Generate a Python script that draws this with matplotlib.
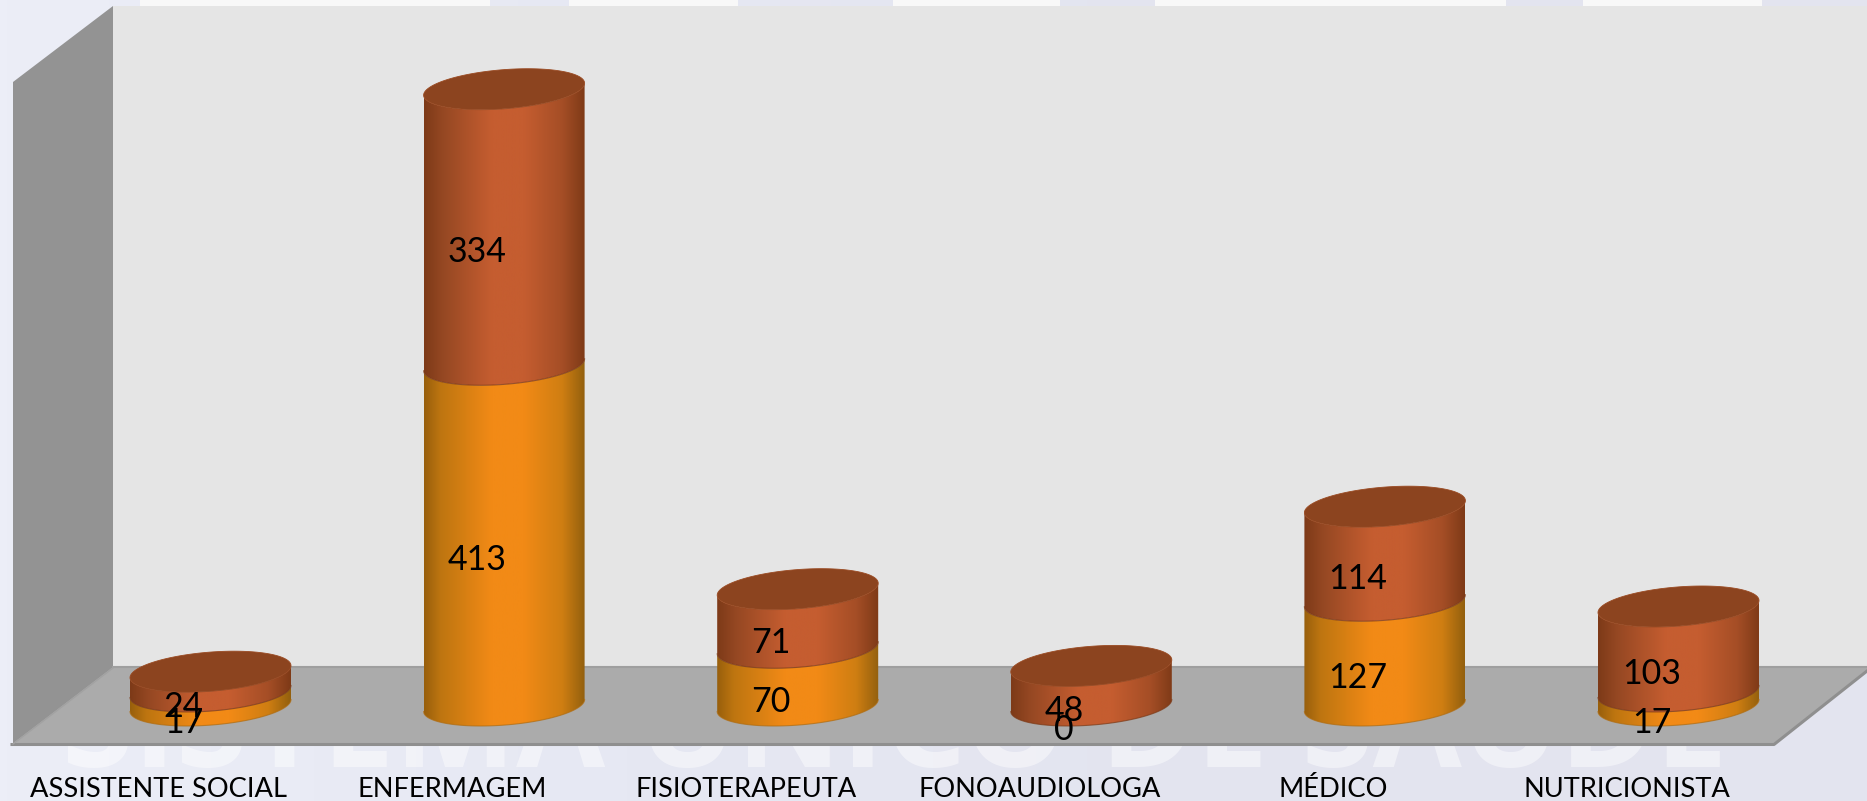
import numpy as np
import matplotlib
matplotlib.use("Agg")
import matplotlib.pyplot as plt
from matplotlib.patches import Polygon, PathPatch, Rectangle
from matplotlib.path import Path
from matplotlib.colors import LinearSegmentedColormap

categories = ["ASSISTENTE SOCIAL", "ENFERMAGEM", "FISIOTERAPEUTA",
              "FONOAUDIOLOGA", "MÉDICO", "NUTRICIONISTA"]
lower_values = [17, 413, 70, 0, 127, 17]
upper_values = [24, 334, 71, 48, 114, 103]

W, H = 1867, 801
X0, DX = 210.5, 293.6      # pixel of category 0, pixels per category
Y0, DY = 705.5, 0.825      # pixel of value 0, pixels per unit
R_PX, B_PX, S_PX = 80.5, 19.6, 6.0  # ellipse half-width, half-height, shear

plt.rcParams['font.family'] = ['Lato', 'DejaVu Sans']
fig = plt.figure(figsize=(W / 100, H / 100), dpi=100)
ax = fig.add_axes([0, 0, 1, 1])
XL = ((0 - X0) / DX, (W - X0) / DX)
YL = ((Y0 - H) / DY, Y0 / DY)


def px(x, y):
    return ((x - X0) / DX, (Y0 - y) / DY)


def pts(seq):
    return [px(*p) for p in seq]


# background
bg = LinearSegmentedColormap.from_list('bg', ['#eceef7', '#e6e8f3', '#e3e4ef', '#e3e4ef'])
ax.imshow(np.linspace(0, 1, 256)[None, :], cmap=bg, extent=[*XL, *YL], aspect='auto', zorder=0)
for a, b in [(140, 490), (569, 738), (893, 1060), (1155, 1506), (1583, 1762)]:
    x, y = px(a, 6)
    ax.add_patch(Rectangle((x, y), (b - a) / DX, 6 / DY, fc='#f8f8f8', ec='none', zorder=1))
x, y = px(895, 767)
ax.text(x, y, "SISTEMA ÚNICO DE SAÚDE", color='white', alpha=0.45, fontsize=93,
        fontweight='bold', family='Open Sans', ha='center', va='baseline', zorder=1)

# walls and floor
ax.add_patch(Polygon(pts([(113, 6), (W, 6), (W, 670), (113, 670)]), fc='#e5e5e5', ec='none', zorder=2))
ax.add_patch(Polygon(pts([(13, 82), (113, 6), (113, 668), (13, 744)]), fc='#939393', ec='none', zorder=2))
ax.add_patch(Polygon(pts([(113, 667), (W, 667), (W, 671), (1774, 744), (12, 744)]),
                     fc='#ababab', ec='none', zorder=3))
ax.plot(*zip(*pts([(113, 667), (W, 667)])), color='#9f9f9f', lw=1.5, zorder=3)
ax.plot(*zip(*pts([(12, 744.5), (1774, 744.5), (W, 671)])), color='#8f8f8f', lw=2.2, zorder=3)
ax.plot(*zip(*pts([(13, 744), (113, 668)])), color='#a2a2a2', lw=1, zorder=3)

orange = LinearSegmentedColormap.from_list('o', [(0, '#985f0c'), (.1, '#bd7510'), (.42, '#f28a16'),
                                                 (.62, '#f28a16'), (.86, '#cf7e12'), (1, '#93600e')])
rust = LinearSegmentedColormap.from_list('r', [(0, '#7d3a18'), (.12, '#964823'), (.42, '#c55d30'),
                                               (.62, '#c55d30'), (.86, '#a54e26'), (1, '#7e3a17')])
rx, bv, sv = R_PX / DX, B_PX / DY, S_PX / DY


def ellipse(i, v, t):
    return i + rx * np.cos(t), v + sv * np.cos(t) + bv * np.sin(t)


def segment(i, lo, hi, cmap, edge, z):
    front = np.linspace(np.pi, 2 * np.pi, 80)
    bx, by = ellipse(i, lo, front)
    tx, ty = ellipse(i, hi, front[::-1])
    verts = np.r_[np.c_[bx, by], np.c_[tx, ty], [[bx[0], by[0]]]]
    patch = PathPatch(Path(verts, closed=True), fc='none', ec='none', transform=ax.transData)
    ax.add_patch(patch)
    im = ax.imshow(np.linspace(0, 1, 256)[None, :], cmap=cmap, aspect='auto', zorder=z,
                   extent=[i - rx, i + rx, lo - bv - sv, hi + bv + sv])
    im.set_clip_path(patch)
    ax.plot(bx, by, color=edge, lw=0.8, alpha=0.7, zorder=z + 0.1)


for i, (lo, up) in enumerate(zip(lower_values, upper_values)):
    if lo > 0:
        segment(i, 0, lo, orange, '#b06c10', 4)
    segment(i, lo, lo + up, rust, '#7c3a17', 5)
    ex, ey = ellipse(i, lo + up, np.linspace(0, 2 * np.pi, 160))
    ax.fill(ex, ey, fc='#8c441f', ec='#9a4a22', lw=0.6, zorder=6)

# labels
LX, LY = -27 * 0.72, -25 * 0.72
for i, (lo, up) in enumerate(zip(lower_values, upper_values)):
    ax.annotate(str(lo), (i, lo / 2), xytext=(LX, LY), textcoords='offset points',
                ha='center', va='center', fontsize=24.5, color='black', zorder=8)
    ax.annotate(str(up), (i, lo + up / 2), xytext=(LX, LY), textcoords='offset points',
                ha='center', va='center', fontsize=24.5, color='black', zorder=8)
    ax.annotate(categories[i], (i, 0), xytext=(-52 * 0.72, -84 * 0.72), textcoords='offset points',
                ha='center', va='center', fontsize=19.6, color='black', zorder=8)

ax.set_xlim(*XL)
ax.set_ylim(*YL)
ax.axis('off')
fig.savefig('out.png', dpi=100)
